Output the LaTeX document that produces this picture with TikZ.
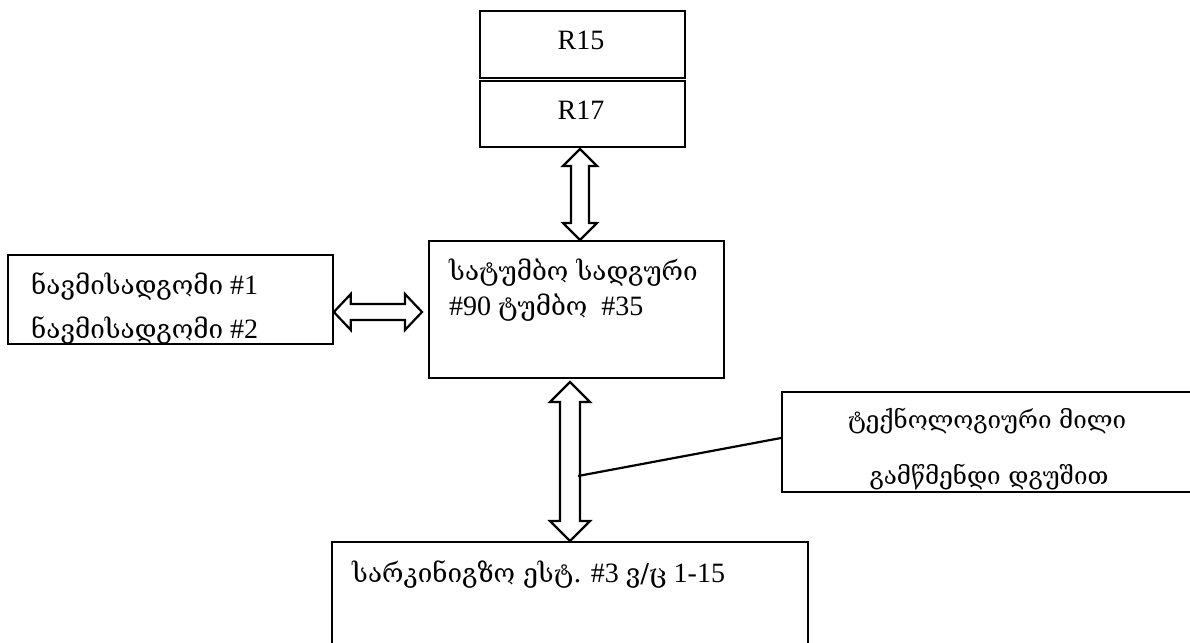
\documentclass[tikz,border=0pt]{standalone}
\usepackage{fontspec}
\setmainfont{Liberation Serif}
\newfontfamily\geo[Scale=0.93]{DejaVu Serif}
\usetikzlibrary{calc}

% hollow double-headed arrows
% #1, #2: end points; #3 shaft half-width, #4 head half-width, #5 head length
\newcommand{\vdarrow}[5]{%
  \draw[hollowarrow] let \p1=#1, \p2=#2 in
    (\x1,\y1) -- (\x1+#4pt,\y1-#5pt) -- (\x1+#3pt,\y1-#5pt) -- (\x1+#3pt,\y2+#5pt)
    -- (\x1+#4pt,\y2+#5pt) -- (\x1,\y2) -- (\x1-#4pt,\y2+#5pt) -- (\x1-#3pt,\y2+#5pt)
    -- (\x1-#3pt,\y1-#5pt) -- (\x1-#4pt,\y1-#5pt) -- cycle;}
\newcommand{\hdarrow}[5]{%
  \draw[hollowarrow] let \p1=#1, \p2=#2 in
    (\x1,\y1) -- (\x1+#5pt,\y1+#4pt) -- (\x1+#5pt,\y1+#3pt) -- (\x2-#5pt,\y1+#3pt)
    -- (\x2-#5pt,\y1+#4pt) -- (\x2,\y1) -- (\x2-#5pt,\y1-#4pt) -- (\x2-#5pt,\y1-#3pt)
    -- (\x1+#5pt,\y1-#3pt) -- (\x1+#5pt,\y1-#4pt) -- cycle;}

\tikzset{
  box/.style={draw, line width=1.8pt, anchor=north west, inner sep=0pt},
  txt/.style={font=\fontsize{28}{33}\selectfont, inner sep=0pt},
  smalltxt/.style={font=\fontsize{26}{31}\selectfont, inner sep=0pt, anchor=base},
  bigtxt/.style={font=\fontsize{28}{33}\selectfont, inner sep=0pt, anchor=base},
  hollowarrow/.style={draw, fill=white, line width=2.2pt, line join=miter},
  leader/.style={line width=2.2pt}
}

\begin{document}
\begin{tikzpicture}[x=1pt, y=-1pt]
  \useasboundingbox (0,0) rectangle (1190,642);
  \clip (0,0) rectangle (1190,642);

  % reactors
  \node[box, minimum width=205pt, minimum height=67pt] (r15) at (479,10) {};
  \node[bigtxt] (r15t) at (581,50) {R15};
  \node[box, minimum width=205pt, minimum height=66pt] (r17) at (479,80) {};
  \node[bigtxt] (r17t) at (581,119) {R17};

  % pumping station
  \node[box, minimum width=295pt, minimum height=137pt] (pump) at (428,240) {};
  \node[txt, anchor=base west] (p1) at (449,280) {\geo სატუმბო სადგური};
  \node[txt, anchor=base west] (p2) at (449,315) {\#90 {\geo ტუმბო}\ \ \#35};

  % berths
  \node[box, minimum width=325pt, minimum height=89pt] (berth) at (7,254) {};
  \node[txt, anchor=base west] (b1) at (31,294) {{\geo ნავმისადგომი} \#1};
  \node[txt, anchor=base west] (b2) at (31,338) {{\geo ნავმისადგომი} \#2};

  % process pipe
  \node[box, minimum width=430pt, minimum height=100pt] (pipe) at (781,391) {};
  \node[smalltxt] (t1) at (987,428) {\geo ტექნოლოგიური მილი};
  \node[smalltxt] (t2) at (989,484) {\geo გამწმენდი დგუშით};

  % railway station
  \node[box, minimum width=476pt, minimum height=140pt] (rail) at (331,541) {};
  \node[txt, anchor=base west] (rs) at (352,582) {{\geo სარკინიგზო ესტ.} \#3 {\geo ვ/ც} 1-15};

  % connectors
  \coordinate (a1top) at (580,149);
  \coordinate (a1bot) at (pump.north -| a1top);
  \vdarrow{(a1top)}{(a1bot)}{9}{17}{17}

  \coordinate (a2l) at (berth.east |- 0,312);
  \coordinate (a2r) at ($(pump.west |- 0,312)+(-6,0)$);
  \hdarrow{(a2l)}{(a2r)}{8}{18}{17}

  \coordinate (a3top) at (570,382);
  \coordinate (a3bot) at (rail.north -| a3top);
  \vdarrow{(a3top)}{(a3bot)}{10}{20}{20}

  \coordinate (tap) at (578,476);
  \draw[leader] (tap) -- (pipe.west |- 0,438);
\end{tikzpicture}
\end{document}
